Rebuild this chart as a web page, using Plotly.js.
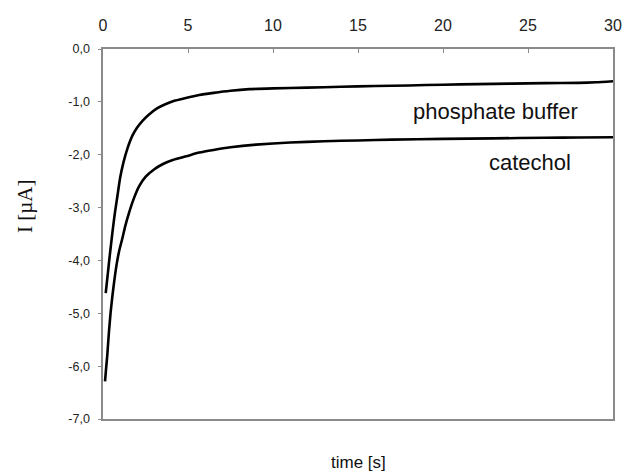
<!DOCTYPE html>
<html>
<head>
<meta charset="utf-8">
<script src="https://cdn.plot.ly/plotly-3.0.1.min.js"></script>
<style>html,body{margin:0;padding:0;background:#fff;}#chart{width:622px;height:472px;}</style>
</head>
<body>
<div id="chart"></div>
<script>
// Phosphate buffer transient
const phosTime = [0.16, 0.25, 0.31, 0.4, 0.5, 0.6, 0.7, 0.84, 1.0, 1.2, 1.45, 1.73, 2.0, 2.35, 2.71, 3.2, 3.7, 4.2, 4.7, 5.66, 6.5, 7.5, 8.6, 10, 12, 14, 16, 18, 20, 22, 24, 26, 28, 29, 30];
const phosCurrent = [-4.62, -4.35, -4.17, -3.9, -3.62, -3.35, -3.1, -2.8, -2.45, -2.15, -1.87, -1.64, -1.49, -1.35, -1.24, -1.12, -1.04, -0.98, -0.94, -0.87, -0.83, -0.79, -0.76, -0.745, -0.73, -0.715, -0.70, -0.69, -0.675, -0.665, -0.655, -0.645, -0.64, -0.63, -0.61];
// Catechol transient
const catTime = [0.12, 0.18, 0.25, 0.35, 0.45, 0.55, 0.65, 0.8, 0.95, 1.14, 1.3, 1.53, 1.8, 2.12, 2.5, 3.0, 3.5, 4.1, 4.9, 5.66, 6.5, 7.5, 9.0, 11, 13, 15, 17, 20, 23, 26, 28, 30];
const catCurrent = [-6.29, -6.05, -5.8, -5.35, -4.98, -4.68, -4.42, -4.08, -3.82, -3.58, -3.36, -3.1, -2.84, -2.6, -2.42, -2.28, -2.18, -2.1, -2.03, -1.96, -1.91, -1.86, -1.81, -1.77, -1.745, -1.73, -1.715, -1.70, -1.69, -1.68, -1.675, -1.67];
// Axis ticks
const xTicks = [0, 5, 10, 15, 20, 25, 30];
const yTickVals = [0, -1, -2, -3, -4, -5, -6, -7];
const yTickText = ["0,0", "-1,0", "-2,0", "-3,0", "-4,0", "-5,0", "-6,0", "-7,0"];
// Labels
const seriesNames = ["phosphate buffer", "catechol"];
const labelPos = [[23.1, -1.18], [25.1, -2.14]];

const lineStyle = {color: '#000', width: 2.6, shape: 'spline', smoothing: 0.5};
const traces = [
  {x: phosTime, y: phosCurrent, mode: 'lines', line: lineStyle, name: seriesNames[0]},
  {x: catTime, y: catCurrent, mode: 'lines', line: lineStyle, name: seriesNames[1]}
];

const axisGray = '#8a8a8a';
const layout = {
  width: 622, height: 472,
  margin: {l: 103, r: 9, t: 49, b: 53},
  paper_bgcolor: '#fff', plot_bgcolor: '#fff',
  showlegend: false,
  font: {family: 'Liberation Sans, Arial, sans-serif', color: '#222'},
  xaxis: {
    side: 'top', range: [0, 30], tickvals: xTicks, ticks: 'inside', ticklen: 4,
    tickcolor: axisGray, showline: true, linecolor: axisGray, linewidth: 1.6, mirror: true,
    showgrid: false, zeroline: false, tickfont: {size: 16, color: '#222'}, ticklabelstandoff: 10
  },
  yaxis: {
    range: [-7, 0], tickvals: yTickVals, ticktext: yTickText, ticks: 'outside', ticklen: 3,
    tickcolor: axisGray, showline: true, linecolor: axisGray, linewidth: 1.6, mirror: true,
    showgrid: false, zeroline: false, tickfont: {size: 12.5, color: '#222'}, ticklabelstandoff: 6
  },
  annotations: [
    {text: seriesNames[0], x: labelPos[0][0], y: labelPos[0][1], xref: 'x', yref: 'y', showarrow: false,
     xanchor: 'center', yanchor: 'middle', font: {size: 22, color: '#111'}},
    {text: seriesNames[1], x: labelPos[1][0], y: labelPos[1][1], xref: 'x', yref: 'y', showarrow: false,
     xanchor: 'center', yanchor: 'middle', font: {size: 22, color: '#111'}},
    {text: 'time [s]', xref: 'paper', yref: 'paper', showarrow: false, xanchor: 'center', yanchor: 'middle',
     font: {size: 17, color: '#111'}},
    {text: 'I [µA]', textangle: -90, xref: 'paper', yref: 'paper', showarrow: false, xanchor: 'center', yanchor: 'middle',
     font: {family: 'Liberation Serif, Times New Roman, serif', size: 21, color: '#111'}}
  ]
};
function px2paperX(px) { return (px - layout.margin.l) / (layout.width - layout.margin.l - layout.margin.r); }
function px2paperY(py) { return 1 - (py - layout.margin.t) / (layout.height - layout.margin.t - layout.margin.b); }
layout.annotations[2].x = px2paperX(358); layout.annotations[2].y = px2paperY(462);
layout.annotations[3].x = px2paperX(25); layout.annotations[3].y = px2paperY(206);

Plotly.newPlot('chart', traces, layout, {displayModeBar: false, staticPlot: true});
</script>
</body>
</html>
